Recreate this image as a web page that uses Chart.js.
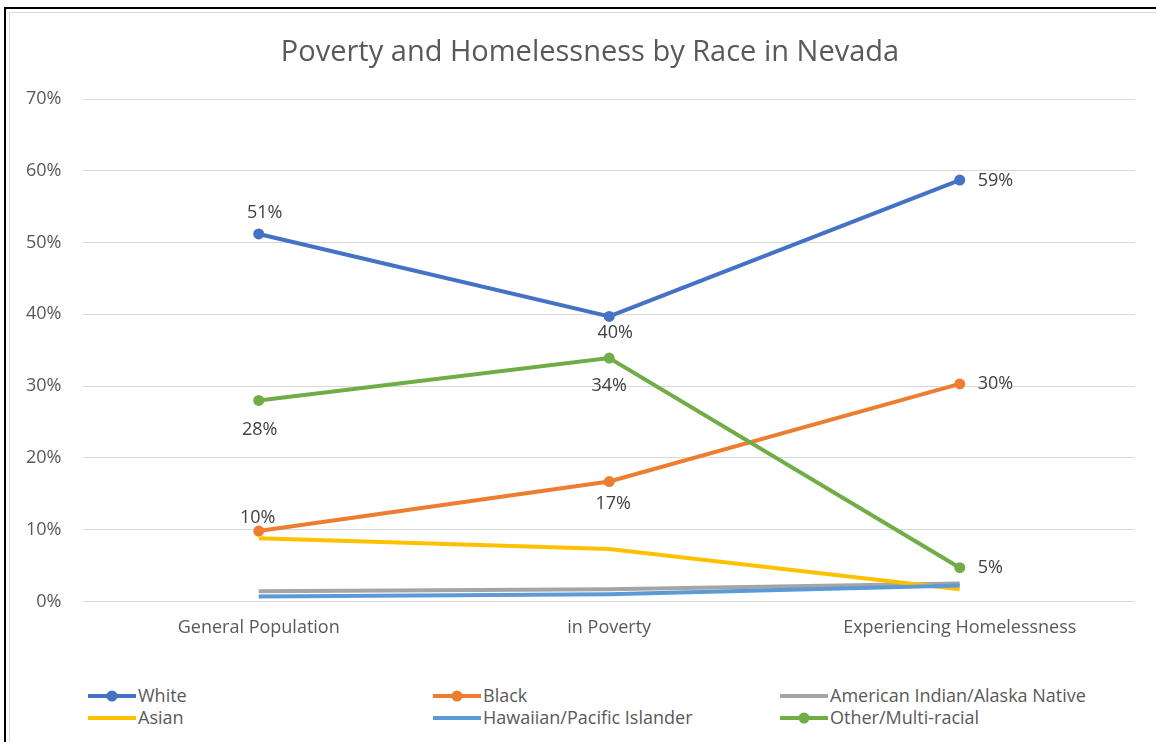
<!DOCTYPE html>
<html>
<head>
<meta charset="utf-8">
<title>Poverty and Homelessness by Race in Nevada</title>
<script src="https://cdn.jsdelivr.net/npm/chart.js@4.4.1/dist/chart.umd.min.js"></script>
<style>
  body { margin: 0; background: #fff; font-family: "Open Sans", "Noto Sans", sans-serif; }
  #frame { position: absolute; left: 4px; top: 7px; width: 1160px; height: 740px; border-left: 2px solid #000; border-top: 2px solid #000; }
  #inner { position: absolute; left: 3px; top: 3px; width: 1160px; height: 740px; border-left: 1px solid #d9d9d9; border-top: 1px solid #d9d9d9; }
  #chartbox { position: absolute; left: -10px; top: -10px; width: 1156px; height: 644px; }
  #legend { position: absolute; left: -10px; top: 662px; width: 1156px; height: 50px; }
  #title { position: absolute; left: 0; top: 32px; width: 1180px; text-align: center; font-size: 29px; line-height: 35px; color: #595959; white-space: nowrap; }
  .item { position: absolute; font-size: 18px; color: #595959; white-space: nowrap; height: 20px; line-height: 20px; }
  .item canvas { vertical-align: middle; margin-right: 2px; position: relative; top: -1px; }
</style>
</head>
<body>
<div id="frame"><div id="inner">
  <div id="chartbox"><canvas id="myChart"></canvas></div>
  <div id="legend"></div>
</div></div>
<div id="title">Poverty and Homelessness by Race in Nevada</div>
<script>
// categories along the x axis
var categories = ["General Population", "in Poverty", "Experiencing Homelessness"];

// percent of each group
var white    = [51.2, 39.7, 58.7];
var black    = [9.8, 16.7, 30.3];
var aian     = [1.4, 1.7, 2.5];
var asian    = [8.8, 7.3, 1.7];
var hawaiian = [0.7, 1.0, 2.2];
var other    = [28.0, 33.9, 4.7];

var yTicks = [0, 10, 20, 30, 40, 50, 60, 70];

// label placement per point: [dx, dy, align] relative to the marker
var labelPos = {
  "White": [[6, -21, "center"], [6, 16, "center"], [18, 1, "left"]],
  "Black": [[-1, -13, "center"], [4, 22, "center"], [18, 0, "left"]],
  "Other/Multi-racial": [[1, 29, "center"], [0, 28, "center"], [18, 0, "left"]]
};

var series = [
  { label: "White", data: white, color: "#4472C4", dots: true },
  { label: "Black", data: black, color: "#ED7D31", dots: true },
  { label: "American Indian/Alaska Native", data: aian, color: "#A5A5A5", dots: false },
  { label: "Asian", data: asian, color: "#FFC000", dots: false },
  { label: "Hawaiian/Pacific Islander", data: hawaiian, color: "#5B9BD5", dots: false },
  { label: "Other/Multi-racial", data: other, color: "#70AD47", dots: true }
];

var datasets = series.map(function(s, i) {
  return {
    label: s.label,
    data: s.data,
    borderColor: s.color,
    backgroundColor: s.color,
    borderWidth: 4,
    pointRadius: s.dots ? 5.5 : 0,
    pointHoverRadius: s.dots ? 5.5 : 0,
    pointBorderWidth: 0,
    tension: 0,
    order: series.length - i
  };
});

var font = "'Open Sans', 'Noto Sans', sans-serif";

// simple data labels, Excel style
var pointLabels = {
  id: "pointLabels",
  afterDatasetsDraw: function(chart) {
    var ctx = chart.ctx;
    ctx.save();
    ctx.font = "18px " + font;
    ctx.fillStyle = "#404040";
    ctx.textBaseline = "middle";
    chart.data.datasets.forEach(function(ds, di) {
      var pos = labelPos[ds.label];
      if (!pos) return;
      var meta = chart.getDatasetMeta(di);
      meta.data.forEach(function(pt, i) {
        var txt = Math.round(ds.data[i]) + "%";
        ctx.textAlign = pos[i][2];
        ctx.fillText(txt, pt.x + pos[i][0], pt.y + pos[i][1]);
      });
    });
    ctx.restore();
  }
};

var ctx = document.getElementById("myChart").getContext("2d");
var myChart = new Chart(ctx, {
  type: "line",
  data: { labels: categories, datasets: datasets },
  plugins: [pointLabels],
  options: {
    responsive: true,
    maintainAspectRatio: false,
    animation: false,
    layout: { padding: { left: 4, right: 21, top: 96, bottom: 0 } },
    plugins: {
      legend: { display: false },
      tooltip: { enabled: false },
      title: { display: false }
    },
    scales: {
      x: {
        offset: true,
        grid: { display: false },
        border: { display: false },
        ticks: { color: "#595959", font: { family: font, size: 18 }, padding: 8 }
      },
      y: {
        min: 0,
        max: 70,
        afterBuildTicks: function(axis) {
          axis.ticks = yTicks.map(function(v) { return { value: v }; });
        },
        grid: { color: "#d9d9d9", lineWidth: 1, drawTicks: false },
        border: { display: false },
        ticks: {
          color: "#595959",
          font: { family: font, size: 18 },
          padding: 22,
          callback: function(v) { return v + "%"; }
        }
      }
    }
  }
});

// legend laid out in three columns like the original
var legendCols = [88, 433, 780];
var legendRows = [10, 32];
var legendEl = document.getElementById("legend");
series.forEach(function(s, i) {
  var div = document.createElement("div");
  div.className = "item";
  div.style.left = legendCols[i % 3] + "px";
  div.style.top = legendRows[Math.floor(i / 3)] + "px";
  var c = document.createElement("canvas");
  c.width = 48; c.height = 14;
  var g = c.getContext("2d");
  g.strokeStyle = s.color;
  g.lineWidth = 4;
  g.beginPath(); g.moveTo(0, 7); g.lineTo(48, 7); g.stroke();
  if (s.dots) {
    g.fillStyle = s.color;
    g.beginPath(); g.arc(24, 7, 5.5, 0, Math.PI * 2); g.fill();
  }
  div.appendChild(c);
  div.appendChild(document.createTextNode(s.label));
  legendEl.appendChild(div);
});
</script>
</body>
</html>
